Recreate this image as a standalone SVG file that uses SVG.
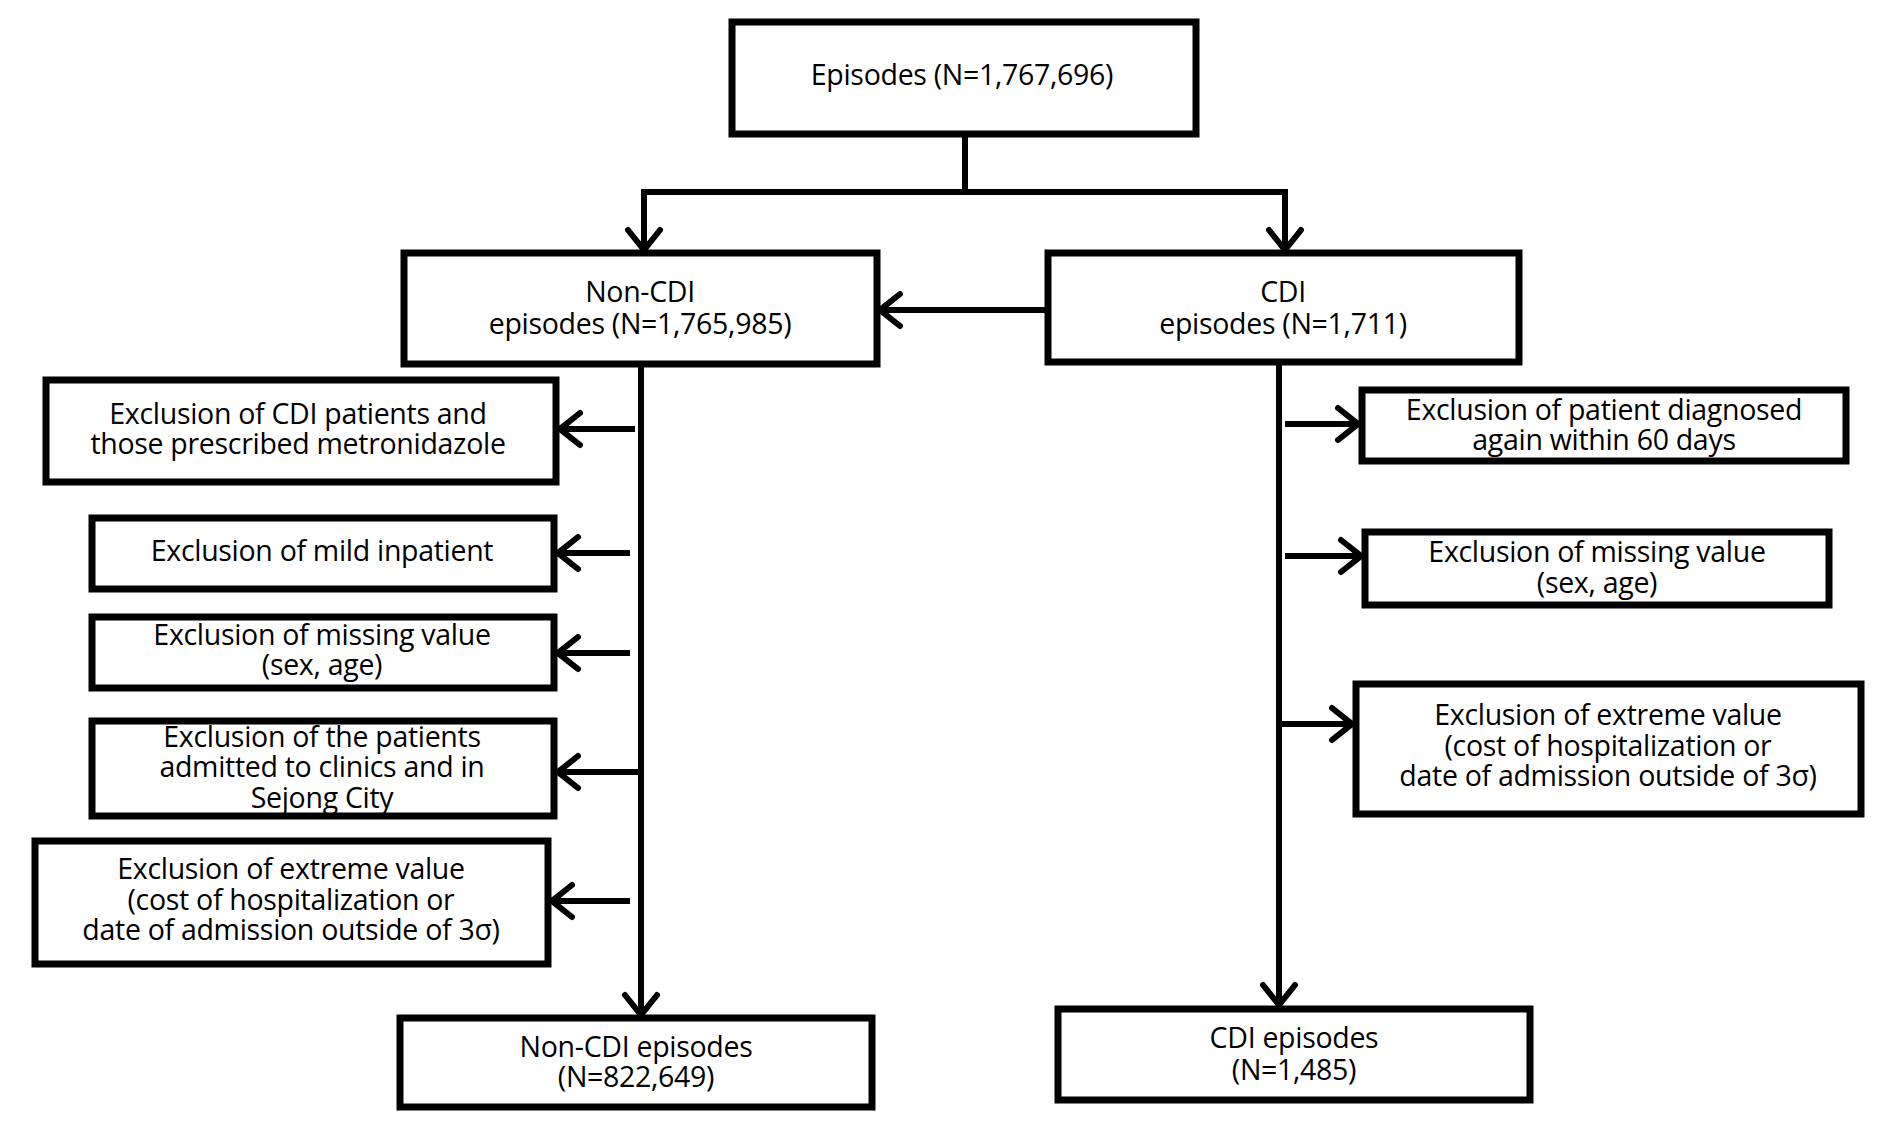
<svg xmlns="http://www.w3.org/2000/svg" width="1904" height="1142" viewBox="0 0 1904 1142">
<defs>
<style>
.box{fill:#fff;stroke:#000;stroke-width:7}
.t{font-family:"Open Sans","Noto Sans",sans-serif;font-size:28.5px;fill:#000;text-anchor:middle;letter-spacing:-0.3px}
.ln{stroke:#000;stroke-width:6;fill:none}
</style>
<marker id="ah" viewBox="-24 -20 28 40" markerWidth="28" markerHeight="40" refX="0" refY="0" orient="auto" markerUnits="userSpaceOnUse">
<path d="M -20 -16 L 0 0 L -20 16" fill="none" stroke="#000" stroke-width="6" stroke-linecap="round" stroke-linejoin="miter"/>
</marker>
</defs>
<rect width="1904" height="1142" fill="#fff"/>
<g id="connectors">
<path class="ln" d="M965 134 V192 M641 192 H1288"/>
<path class="ln" d="M644 192 V250" marker-end="url(#ah)"/>
<path class="ln" d="M1285 192 V250" marker-end="url(#ah)"/>
<path class="ln" d="M1048 310 H880" marker-end="url(#ah)"/>
<path class="ln" d="M641 364 V1015" marker-end="url(#ah)"/>
<path class="ln" d="M635 429 H560" marker-end="url(#ah)"/>
<path class="ln" d="M630 553 H558" marker-end="url(#ah)"/>
<path class="ln" d="M630 653 H558" marker-end="url(#ah)"/>
<path class="ln" d="M641 772 H558" marker-end="url(#ah)"/>
<path class="ln" d="M630 901 H552" marker-end="url(#ah)"/>
<path class="ln" d="M1279 362 V1005" marker-end="url(#ah)"/>
<path class="ln" d="M1285 424 H1358" marker-end="url(#ah)"/>
<path class="ln" d="M1285 556 H1361" marker-end="url(#ah)"/>
<path class="ln" d="M1279 724 H1352" marker-end="url(#ah)"/>
</g>
<g id="n_top"><rect class="box" x="732" y="22" width="464" height="112"/><text class="t" x="962" y="85">Episodes (N=1,767,696)</text></g>
<g id="n_noncdi"><rect class="box" x="404" y="253" width="473" height="111"/><text class="t" x="640" y="302">Non-CDI</text><text class="t" x="640" y="334">episodes (N=1,765,985)</text></g>
<g id="n_cdi"><rect class="box" x="1048" y="253" width="471" height="109"/><text class="t" x="1283" y="302">CDI</text><text class="t" x="1283" y="334">episodes (N=1,711)</text></g>
<g id="n_l1"><rect class="box" x="46" y="380" width="510" height="102"/><text class="t" x="298" y="424">Exclusion of CDI patients and</text><text class="t" x="298" y="454">those prescribed metronidazole</text></g>
<g id="n_l2"><rect class="box" x="92" y="518" width="462" height="71"/><text class="t" x="322" y="561">Exclusion of mild inpatient</text></g>
<g id="n_l3"><rect class="box" x="92" y="617" width="462" height="71"/><text class="t" x="322" y="645">Exclusion of missing value</text><text class="t" x="322" y="675">(sex, age)</text></g>
<g id="n_l4"><rect class="box" x="92" y="721" width="462" height="95"/><text class="t" x="322" y="747">Exclusion of the patients</text><text class="t" x="322" y="777">admitted to clinics and in</text><text class="t" x="322" y="808">Sejong City</text></g>
<g id="n_l5"><rect class="box" x="35" y="841" width="513" height="123"/><text class="t" x="291" y="879">Exclusion of extreme value</text><text class="t" x="291" y="910">(cost of hospitalization or</text><text class="t" x="291" y="940">date of admission outside of 3σ)</text></g>
<g id="n_nonfinal"><rect class="box" x="400" y="1018" width="472" height="89"/><text class="t" x="636" y="1057">Non-CDI episodes</text><text class="t" x="636" y="1087">(N=822,649)</text></g>
<g id="n_r1"><rect class="box" x="1362" y="390" width="484" height="71"/><text class="t" x="1604" y="420">Exclusion of patient diagnosed</text><text class="t" x="1604" y="450">again within 60 days</text></g>
<g id="n_r2"><rect class="box" x="1365" y="532" width="464" height="73"/><text class="t" x="1597" y="562">Exclusion of missing value</text><text class="t" x="1597" y="593">(sex, age)</text></g>
<g id="n_r3"><rect class="box" x="1356" y="684" width="505" height="130"/><text class="t" x="1608" y="725">Exclusion of extreme value</text><text class="t" x="1608" y="756">(cost of hospitalization or</text><text class="t" x="1608" y="786">date of admission outside of 3σ)</text></g>
<g id="n_cdifinal"><rect class="box" x="1058" y="1009" width="472" height="91"/><text class="t" x="1294" y="1048">CDI episodes</text><text class="t" x="1294" y="1080">(N=1,485)</text></g>
</svg>
